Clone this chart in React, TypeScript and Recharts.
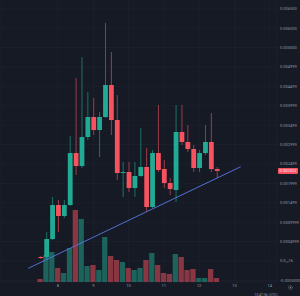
import { ComposedChart, Bar, Cell, XAxis, YAxis, CartesianGrid, ReferenceLine } from "recharts";

// 4h candles; slot 0 = day 8, 00:00
const startSlot = -3;

const opens = [
  0.000103, 0.000103, 0.000567, 0.001443, 0.00116, 0.001443, 0.002783, 0.002448, 0.003196, 0.003711, 0.003376,
  0.003711, 0.004536, 0.003634, 0.002268, 0.002294, 0.001881, 0.002191, 0.002423, 0.001392, 0.002783, 0.002371,
  0.00201, 0.00183, 0.003325, 0.003067, 0.002887, 0.002397, 0.002783, 0.003067, 0.002371,
];
const highs = [
  0.000129, 0.000747, 0.001649, 0.001572, 0.001572, 0.003222, 0.004716, 0.005258, 0.004356, 0.004201, 0.00384,
  0.006134, 0.005387, 0.004278, 0.002552, 0.002552, 0.002552, 0.003428, 0.002912, 0.002861, 0.004021, 0.002603,
  0.002139, 0.004021, 0.004021, 0.003505, 0.00299, 0.002861, 0.003505, 0.003814, 0.002423,
];
const lows = [
  0.000052, 0.000026, 0.000541, 0.000747, 0.001108, 0.001418, 0.002216, 0.002397, 0.003119, 0.003247, 0.00268,
  0.003686, 0.003247, 0.002088, 0.001649, 0.001778, 0.001649, 0.002165, 0.001263, 0.001366, 0.002294, 0.001881,
  0.001701, 0.001521, 0.00299, 0.002809, 0.002294, 0.002294, 0.002732, 0.002294, 0.002139,
];
const closes = [
  0.000077, 0.000567, 0.001443, 0.00116, 0.001443, 0.002783, 0.002448, 0.003196, 0.003711, 0.003376, 0.003711,
  0.004536, 0.003634, 0.002268, 0.002294, 0.001881, 0.002191, 0.002423, 0.001392, 0.002783, 0.002345, 0.00201,
  0.001856, 0.003325, 0.003067, 0.002887, 0.002397, 0.002783, 0.003067, 0.002371, 0.002322,
];
const volumes = [
  3, 27, 30, 14, 9, 34, 72, 63, 16, 17, 12, 45, 26, 22, 20, 14, 12, 14, 22, 29, 17, 9, 8, 28, 25, 12, 13, 4, 4, 13, 4,
];

const dayTicks = [0, 6, 12, 18, 24, 30, 36];
const dayLabels = ["8", "9", "10", "11", "12", "13", "14"];

const priceTicks = [
  -0.0005, 0, 0.0005, 0.001, 0.0015, 0.002, 0.0025, 0.003, 0.0035, 0.004, 0.0045, 0.005, 0.0055, 0.006, 0.0065,
];
const priceLabels = [
  "-0.0005000", "0.0₁₇16", "0.0004999", "0.0009999", "0.001499", "0.001999", "0.002499", "0.002999",
  "0.003499", "0.003999", "0.004499", "0.004999", "0.005500", "0.006000", "0.006500",
];

const trendLine = [
  { slot: -5.05, price: -0.000188 },
  { slot: 31.07, price: 0.00243 },
];
const lastPriceLabel = "0.002322";

const UP = "#22ab94";
const DOWN = "#f7525f";
const UP_VOL = "rgba(34,171,148,0.5)";
const DOWN_VOL = "rgba(247,82,95,0.5)";
const BG = "#161a25";
const GRID = "#1f2331";
const TEXT = "#9598a1";
const FONT = "Roboto, 'DejaVu Sans', sans-serif";

const rows = opens.map((o, i) => ({
  t: startSlot + i,
  open: o,
  high: highs[i],
  low: lows[i],
  close: closes[i],
  range: [lows[i], highs[i]],
  volume: volumes[i],
}));

function Candle(props: any) {
  const { x, y, width, height, payload } = props;
  if (x == null || y == null) return null;
  const top = Math.min(y, y + height);
  const h = Math.abs(height);
  const { open, close, high, low } = payload;
  const ratio = high === low ? 0 : h / (high - low);
  const bodyTop = top + (high - Math.max(open, close)) * ratio;
  const bodyBot = top + (high - Math.min(open, close)) * ratio;
  const color = close >= open ? UP : DOWN;
  const cx = x + width / 2;
  return (
    <g>
      <line x1={cx} x2={cx} y1={top} y2={top + h} stroke={color} strokeWidth={0.6} />
      <rect x={x} y={bodyTop} width={width} height={Math.max(bodyBot - bodyTop, 0.8)} fill={color} />
    </g>
  );
}

function PriceBadge(props: any) {
  const vb = props.viewBox;
  if (!vb) return null;
  const bx = vb.x + vb.width + 1;
  return (
    <g>
      <rect x={bx} y={vb.y - 3} width={20} height={6} rx={0.8} fill={DOWN} />
      <text x={bx + 10} y={vb.y + 1.4} textAnchor="middle" fontSize={4} fill="#fff" fontFamily={FONT}>
        {lastPriceLabel}
      </text>
    </g>
  );
}

export default function App() {
  return (
    <div style={{ position: "absolute", left: 0, top: 0, width: 300, height: 296, background: BG, overflow: "hidden" }}>
      <ComposedChart width={300} height={296} data={rows} margin={{ top: 0, right: 0, bottom: 0, left: 0 }}>
        <CartesianGrid xAxisId="main" yAxisId="price" stroke={GRID} strokeWidth={0.6} />

        <XAxis
          xAxisId="main"
          dataKey="t"
          type="number"
          domain={[-9.86, 37.24]}
          ticks={dayTicks}
          tickFormatter={(v: number) => dayLabels[dayTicks.indexOf(v)] ?? ""}
          height={14}
          axisLine={false}
          tickLine={false}
          tickSize={0}
          tickMargin={2}
          tick={{ fontSize: 4, fill: TEXT, fontFamily: FONT }}
          allowDataOverflow
        />
        <XAxis xAxisId="vol" dataKey="t" type="number" domain={[-9.86, 37.24]} hide allowDataOverflow />

        <YAxis
          yAxisId="price"
          orientation="right"
          type="number"
          domain={[-0.000541, 0.006727]}
          ticks={priceTicks}
          tickFormatter={(v: number) => priceLabels[priceTicks.indexOf(v)] ?? ""}
          width={23}
          axisLine={false}
          tickLine={false}
          tickSize={0}
          tickMargin={3}
          tick={{ fontSize: 4, fill: TEXT, fontFamily: FONT, textAnchor: "start" }}
          allowDataOverflow
          interval={0}
        />
        <YAxis yAxisId="vol" domain={[0, 282]} hide />

        <Bar xAxisId="vol" yAxisId="vol" dataKey="volume" barSize={5.3} isAnimationActive={false}>
          {rows.map((r, i) => (
            <Cell key={i} fill={r.close >= r.open ? UP_VOL : DOWN_VOL} />
          ))}
        </Bar>

        <Bar
          xAxisId="main"
          yAxisId="price"
          dataKey="range"
          barSize={4.8}
          shape={<Candle />}
          isAnimationActive={false}
        />

        <ReferenceLine
          xAxisId="main"
          yAxisId="price"
          segment={[
            { x: trendLine[0].slot, y: trendLine[0].price },
            { x: trendLine[1].slot, y: trendLine[1].price },
          ]}
          stroke="#5a78e6"
          strokeWidth={0.9}
          ifOverflow="visible"
        />

        <ReferenceLine
          xAxisId="main"
          yAxisId="price"
          y={closes[closes.length - 1]}
          stroke="none"
          label={<PriceBadge />}
          ifOverflow="visible"
        />
      </ComposedChart>

      <svg width={300} height={296} style={{ position: "absolute", left: 0, top: 0, pointerEvents: "none" }}>
        <circle cx={290.5} cy={287.5} r={1.8} fill="none" stroke={TEXT} strokeWidth={0.7} strokeDasharray="0.9 0.5" />
        <circle cx={290.5} cy={287.5} r={0.6} fill={TEXT} />
        <text x={266} y={295.5} textAnchor="middle" fontSize={3.5} fill={TEXT} fontFamily={FONT}>
          13:47:56 (UTC)
        </text>
      </svg>
    </div>
  );
}
